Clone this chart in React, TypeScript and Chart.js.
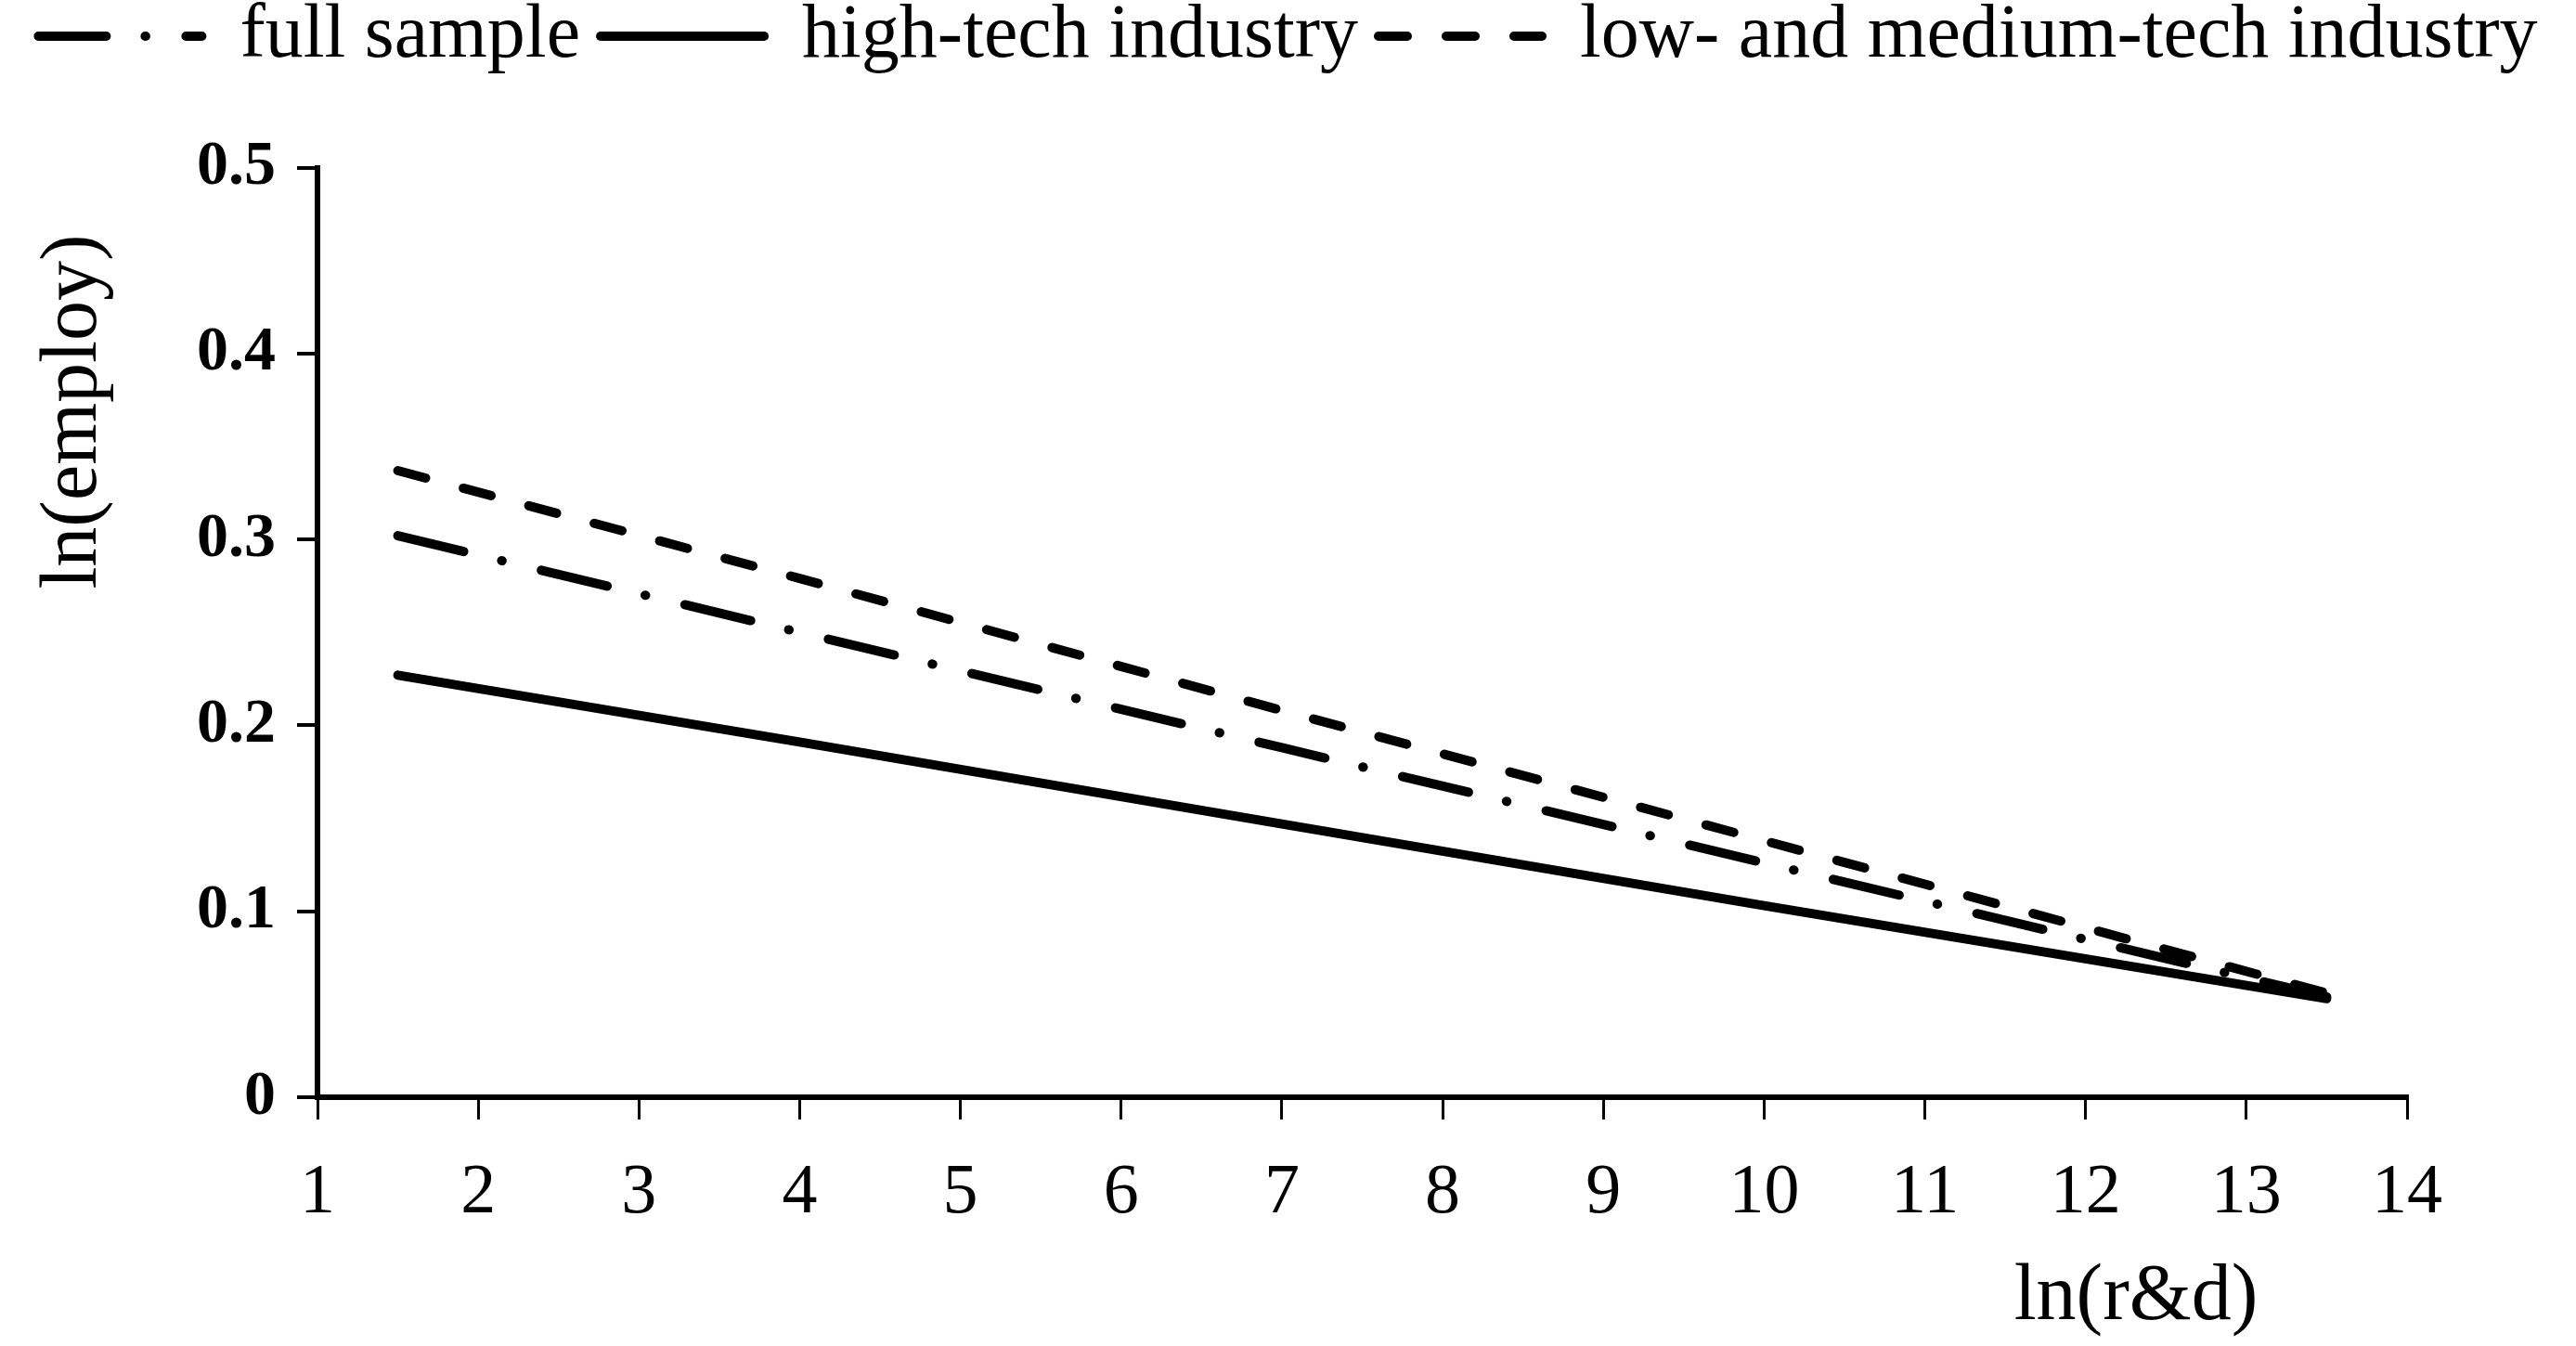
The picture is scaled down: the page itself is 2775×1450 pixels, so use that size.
import React, { useEffect, useRef } from 'react';
import { Chart, registerables } from 'chart.js';

Chart.register(...registerables);

// ---- data ----
const seriesNames = ['full sample', 'high-tech industry', 'low- and medium-tech industry'];
const xValues = [1.5, 4, 7, 10, 13.5];
const fullSample = [0.302, 0.250, 0.188, 0.126, 0.054];
const highTech = [0.227, 0.191, 0.147, 0.103, 0.053];
const lowMedTech = [0.337, 0.279, 0.208, 0.138, 0.056];
const xTickValues = [1, 2, 3, 4, 5, 6, 7, 8, 9, 10, 11, 12, 13, 14];
const xTickLabels = ['1', '2', '3', '4', '5', '6', '7', '8', '9', '10', '11', '12', '13', '14'];
const yTickValues = [0, 0.1, 0.2, 0.3, 0.4, 0.5];
const yTickLabels = ['0', '0.1', '0.2', '0.3', '0.4', '0.5'];
const xAxisTitle = 'ln(r&d)';
const yAxisTitle = 'ln(employ)';

// ---- styles ----
const CANVAS_W = 2775;
const CANVAS_H = 1474;
const TOP_SHIFT = -24;
const FONT = '"Liberation Serif", "Times New Roman", serif';
const LINE_W = 10;
const dashStyles: number[][] = [
  [73, 42, 0.5, 43.5],
  [],
  [31, 42],
];

const toPoints = (ys: number[]) => xValues.map((x, i) => ({ x, y: ys[i] }));
const seriesValues = [fullSample, highTech, lowMedTech];

const legendHeightPlugin = {
  id: 'legendHeight',
  beforeLayout(chart: any) {
    const lg = chart.legend;
    if (lg && !lg._hPatched) {
      const orig = lg.fit.bind(lg);
      lg.fit = function () {
        orig();
        this.height = 204.5;
      };
      lg._hPatched = true;
    }
  },
};

const axisTitlesPlugin = {
  id: 'axisTitles',
  afterDraw(chart: any) {
    const ctx = chart.ctx as CanvasRenderingContext2D;
    const area = chart.chartArea;
    ctx.save();
    ctx.fillStyle = '#000';
    ctx.font = `86px ${FONT}`;
    ctx.textAlign = 'center';
    ctx.textBaseline = 'middle';
    ctx.fillText(xAxisTitle, area.right - 292, area.bottom + 216);
    ctx.translate(80, area.top + 263);
    ctx.rotate(-Math.PI / 2);
    ctx.fillText(yAxisTitle, 0, 0);
    ctx.restore();
  },
};

export default function App() {
  const ref = useRef<HTMLCanvasElement | null>(null);

  useEffect(() => {
    if (!ref.current) return;
    const chart = new Chart(ref.current, {
      type: 'scatter',
      data: {
        datasets: seriesNames.map((name, i) => ({
          label: name,
          data: toPoints(seriesValues[i]),
          showLine: true,
          fill: false,
          tension: 0,
          pointRadius: 0,
          pointHoverRadius: 0,
          borderColor: '#000',
          backgroundColor: '#000',
          borderWidth: LINE_W,
          borderCapStyle: 'round',
          borderJoinStyle: 'round',
          borderDash: dashStyles[i],
        })),
      },
      options: {
        responsive: false,
        animation: false,
        events: [],
        layout: { padding: 0 },
        plugins: {
          tooltip: { enabled: false },
          legend: {
            display: true,
            position: 'top',
            align: 'center',
            labels: {
              usePointStyle: true,
              pointStyle: 'line',
              pointStyleWidth: 176,
              padding: 22,
              color: '#000',
              font: { family: FONT, size: 82 },
              generateLabels: (ch: any) =>
                ch.data.datasets.map((ds: any, i: number) => ({
                  text: ds.label,
                  fillStyle: '#000',
                  strokeStyle: '#000',
                  fontColor: '#000',
                  lineWidth: LINE_W,
                  lineCap: 'round',
                  lineJoin: 'round',
                  lineDash: dashStyles[i],
                  lineDashOffset: 0,
                  pointStyle: 'line',
                  rotation: 0,
                  hidden: false,
                  datasetIndex: i,
                })),
            },
          },
        },
        scales: {
          x: {
            type: 'linear',
            position: 'bottom',
            min: 1,
            max: 14,
            afterBuildTicks: (scale: any) => {
              scale.ticks = xTickValues.map((v) => ({ value: v }));
            },
            afterFit: (scale: any) => {
              scale.height = 268;
              scale.paddingRight = 182;
            },
            ticks: {
              autoSkip: false,
              maxRotation: 0,
              minRotation: 0,
              padding: 34,
              color: '#000',
              font: { family: FONT, size: 76 },
              callback: (_v: any, i: number) => xTickLabels[i],
            },
            grid: {
              display: true,
              drawOnChartArea: false,
              drawTicks: true,
              tickLength: 24,
              lineWidth: 3,
              color: '#000',
            },
            border: { display: true, color: '#000', width: 6 },
          },
          y: {
            type: 'linear',
            position: 'left',
            min: 0,
            max: 0.5,
            afterBuildTicks: (scale: any) => {
              scale.ticks = yTickValues.map((v) => ({ value: v }));
            },
            afterFit: (scale: any) => {
              scale.width = 342;
            },
            ticks: {
              autoSkip: false,
              padding: 23,
              color: '#000',
              font: { family: FONT, size: 68, weight: 'bold' },
              callback: (_v: any, i: number) => yTickLabels[i],
            },
            grid: {
              display: true,
              drawOnChartArea: false,
              drawTicks: true,
              tickLength: 22,
              lineWidth: 4,
              color: '#000',
            },
            border: { display: true, color: '#000', width: 6 },
          },
        },
      } as any,
      plugins: [legendHeightPlugin, axisTitlesPlugin],
    });
    return () => chart.destroy();
  }, []);

  return (
    <div
      style={{
        position: 'fixed',
        left: 0,
        top: TOP_SHIFT,
        width: CANVAS_W,
        height: CANVAS_H,
        background: '#fff',
      }}
    >
      <canvas ref={ref} width={CANVAS_W} height={CANVAS_H} style={{ display: 'block' }} />
    </div>
  );
}
